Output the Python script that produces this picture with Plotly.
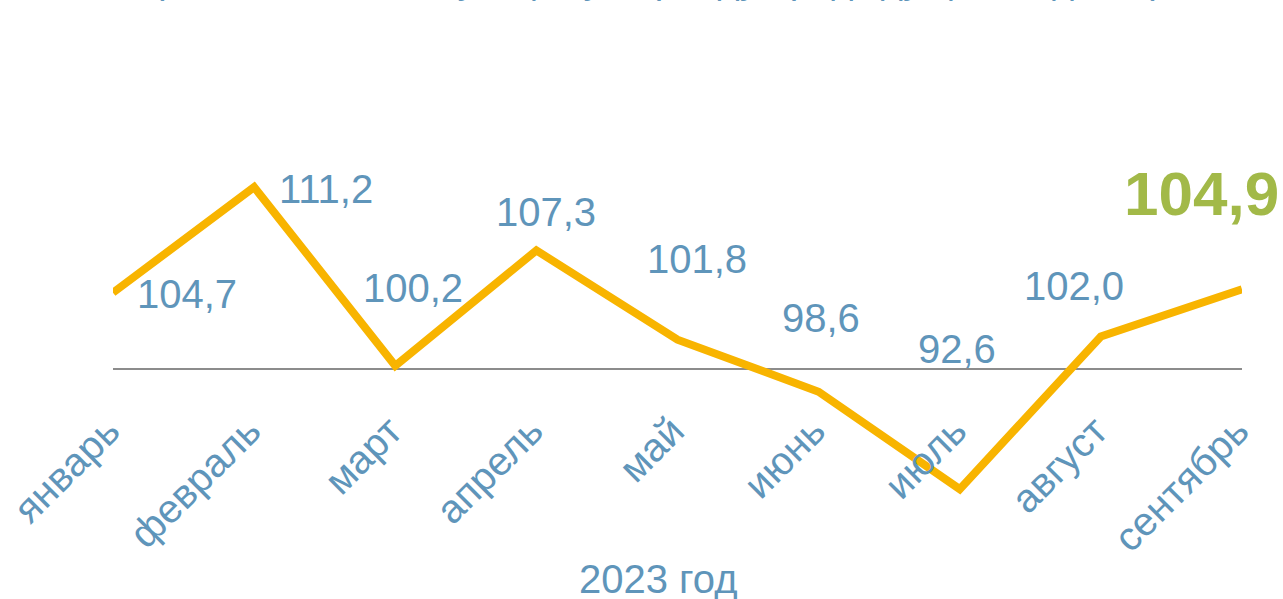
import plotly.graph_objects as go

months = ["январь", "февраль", "март", "апрель", "май", "июнь", "июль", "август", "сентябрь"]
values = [104.7, 111.2, 100.2, 107.3, 101.8, 98.6, 92.6, 102.0, 104.9]
labels = ["104,7", "111,2", "100,2", "107,3", "101,8", "98,6", "92,6", "102,0", "104,9"]
baseline = 100
axis_title = "2023 год"
subtitle = "(в % к соответствующему периоду предыдущего года, %)"

# label offsets in px (style)
label_dx = [74, 72, 18, 10, 19, 2, -3, -27, -41]
label_dy = [-1, -2, 78, 38, 81, 74, 140, 51, 96]

BLUE = "#5F95BA"
GREEN = "#A2B948"
LINE = "#F8B400"
FONT = "Arial, Liberation Sans, sans-serif"

x = list(range(len(months)))

fig = go.Figure()
fig.add_trace(go.Scatter(
    x=x, y=values, mode="lines",
    line=dict(color=LINE, width=8),
    hoverinfo="skip", showlegend=False,
))

fig.add_shape(type="line", xref="x", yref="y", x0=x[0], x1=x[-1], y0=baseline, y1=baseline,
              line=dict(color="#8C8C8C", width=2), layer="below")

n = len(values)
for i, (xv, v, t) in enumerate(zip(x, values, labels)):
    last = i == n - 1
    fig.add_annotation(
        x=xv, y=v, xref="x", yref="y",
        text=("<b>" + t + "</b>") if last else t, showarrow=False,
        xanchor="center", yanchor="middle",
        xshift=label_dx[i], yshift=label_dy[i],
        font=dict(family=FONT, size=62 if last else 40, color=GREEN if last else BLUE),
    )

fig.add_annotation(
    xref="paper", yref="paper", x=0.4827, y=1.0, xanchor="center", yanchor="middle",
    yshift=160, text=subtitle, showarrow=False,
    font=dict(family=FONT, size=38, color=BLUE),
)

fig.add_annotation(
    xref="paper", yref="paper", x=0.4836, y=-0.1005, xanchor="center", yanchor="middle",
    text=axis_title, showarrow=False,
    font=dict(family=FONT, size=40, color=BLUE),
)

fig.update_layout(
    width=1283, height=599,
    margin=dict(l=113, r=41, t=140, b=60, autoexpand=False),
    paper_bgcolor="white", plot_bgcolor="white",
    xaxis=dict(
        range=[0, 8], tickmode="array", tickvals=x, ticktext=months,
        tickangle=-45, showgrid=False, zeroline=False, showline=False,
        anchor="free", position=0.3525, automargin=False, ticklabelshift=-5,
        tickfont=dict(family=FONT, size=40, color=BLUE),
    ),
    yaxis=dict(
        range=[89.53, 114.10], showgrid=False, zeroline=False, showline=False,
        showticklabels=False, automargin=False,
    ),
)

fig.write_html("out.html", config={"displayModeBar": False},
               post_script="document.body.style.margin='0';document.body.style.overflow='hidden';")
